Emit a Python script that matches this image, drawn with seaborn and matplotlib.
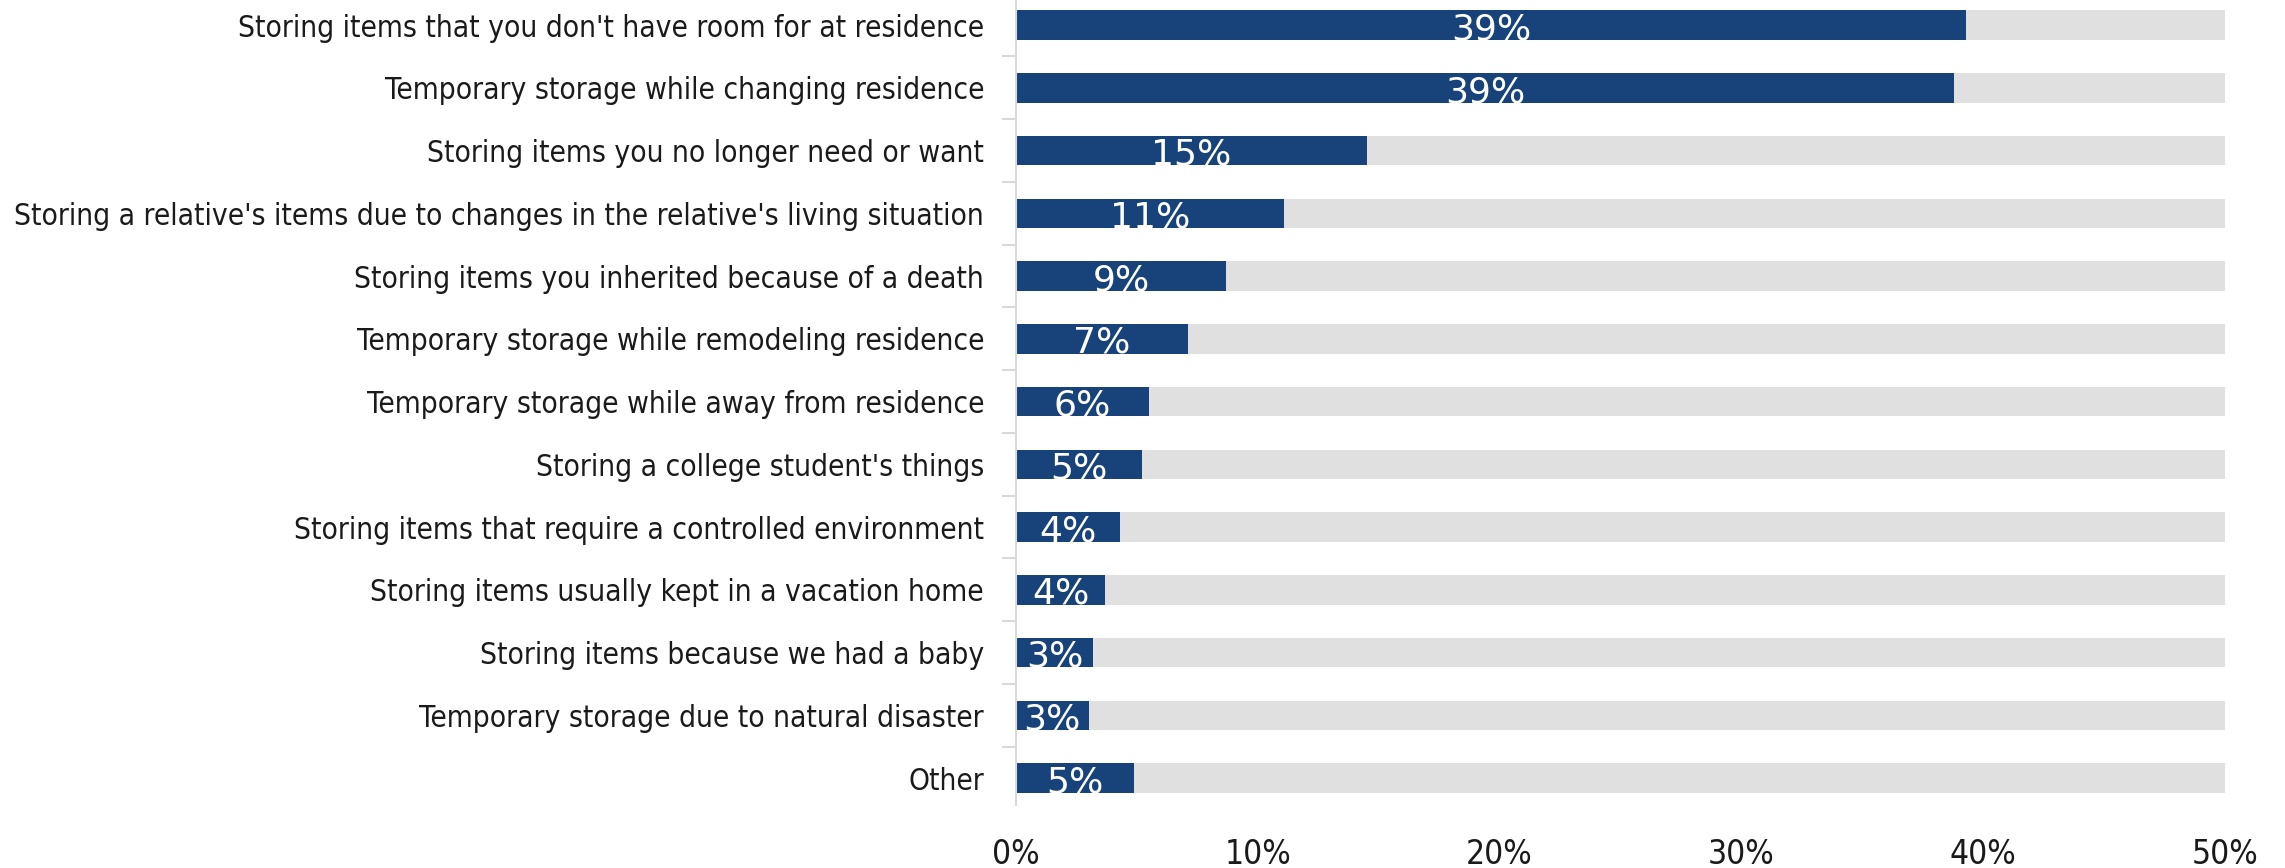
import matplotlib
matplotlib.use("Agg")
import matplotlib.pyplot as plt
import seaborn as sns
import pandas as pd
from matplotlib.ticker import FixedLocator, PercentFormatter

categories = [
    "Storing items that you don't have room for at residence",
    "Temporary storage while changing residence",
    "Storing items you no longer need or want",
    "Storing a relative's items due to changes in the relative's living situation",
    "Storing items you inherited because of a death",
    "Temporary storage while remodeling residence",
    "Temporary storage while away from residence",
    "Storing a college student's things",
    "Storing items that require a controlled environment",
    "Storing items usually kept in a vacation home",
    "Storing items because we had a baby",
    "Temporary storage due to natural disaster",
    "Other",
]
values = [39.3, 38.8, 14.5, 11.1, 8.7, 7.1, 5.5, 5.2, 4.3, 3.7, 3.2, 3.0, 4.9]
value_labels = ["39%", "39%", "15%", "11%", "9%", "7%", "6%", "5%", "4%", "4%", "3%", "3%", "5%"]
background = [50] * len(categories)
x_ticks = [0, 10, 20, 30, 40, 50]

sns.set_theme(style="white")
plt.rcParams["font.family"] = ["DejaVu Sans"]
plt.rcParams["font.stretch"] = "condensed"

df = pd.DataFrame({"cat": categories, "val": values, "bg": background})

fig = plt.figure(figsize=(22.85, 8.68), dpi=100)
ax = fig.add_axes([1016 / 2285, 63 / 868, (2225 - 1016) / 2285, 805 / 868])

sns.barplot(data=df, x="bg", y="cat", color="#e0e0e0", width=0.47, ax=ax,
            saturation=1, linewidth=0)
sns.barplot(data=df, x="val", y="cat", color="#17427a", width=0.47, ax=ax,
            saturation=1, linewidth=0)

for rect, lab in zip(ax.containers[1], value_labels):
    cx = rect.get_x() + rect.get_width() / 2
    cy = rect.get_y() + rect.get_height() / 2
    ax.annotate(lab, (cx, cy), xytext=(0, -3), textcoords="offset points",
                ha="center", va="center", color="white", fontsize=26,
                fontstretch="normal")

ax.set_xlim(0, 50)
ax.set_ylim(12.43, -0.4)
ax.set_xlabel("")
ax.set_ylabel("")
ax.set_xticks(x_ticks)
ax.xaxis.set_major_formatter(PercentFormatter(decimals=0))
ax.tick_params(axis="x", length=0, pad=24, labelsize=24, labelcolor="#1a1a1a")
ax.tick_params(axis="y", which="major", length=0, pad=23, labelsize=21.4, labelcolor="#1a1a1a")
ax.yaxis.set_minor_locator(FixedLocator([i + 0.5 for i in range(-1, len(categories))]))
ax.tick_params(axis="y", which="minor", length=10, width=1.5, color="#d9d9d9", left=True)

for s in ["top", "right", "bottom"]:
    ax.spines[s].set_visible(False)
ax.spines["left"].set_color("#d9d9d9")
ax.spines["left"].set_linewidth(1.5)

fig.savefig("out.png", dpi=100)
